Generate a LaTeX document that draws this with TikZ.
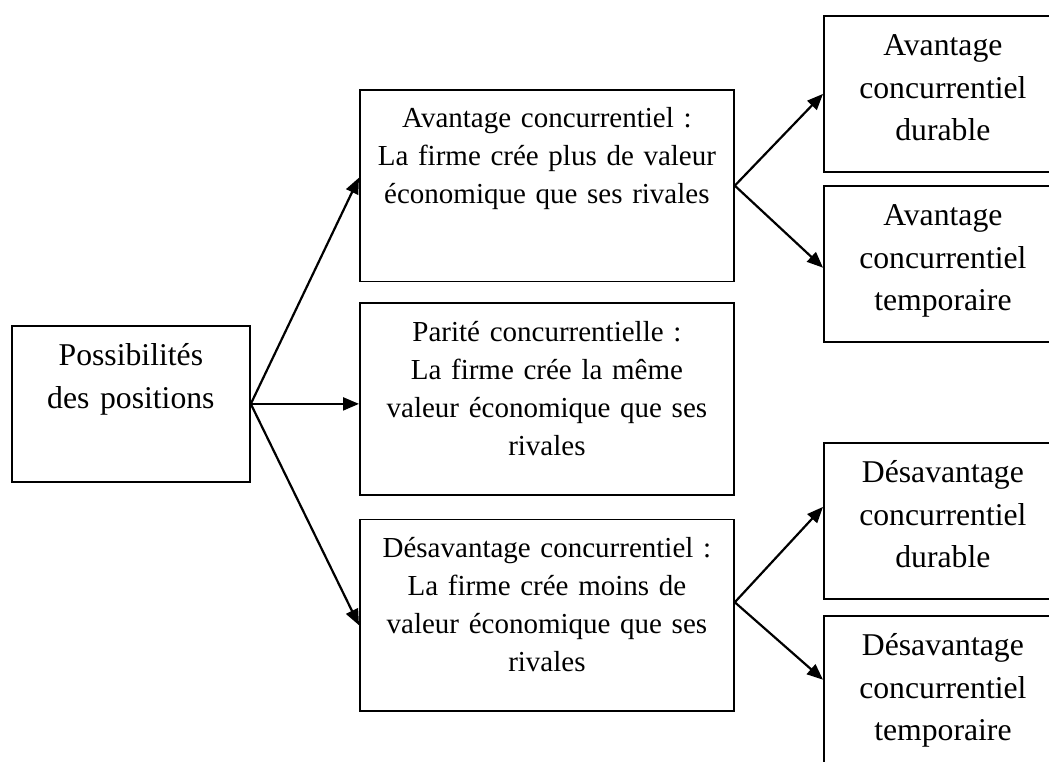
\documentclass[tikz,border=0pt]{standalone}
\usepackage{fontspec}
\setmainfont{Liberation Serif}
\usetikzlibrary{positioning,arrows.meta}

\begin{document}
\begin{tikzpicture}[x=1pt,y=-1pt,>={Triangle[length=16pt,width=13pt]},node distance=20pt]
  \tikzstyle{sidebox}=[draw,line width=1.8pt,inner sep=0pt,text width=238pt,
    align=center,text height=40pt,text depth=116pt,
    font=\fontsize{31.7}{42.5}\selectfont]
  \tikzstyle{midbox}=[draw,line width=1.8pt,inner sep=0pt,text width=374pt,
    align=center,text height=38pt,text depth=153.5pt,
    font=\fontsize{29}{38}\selectfont]
  \tikzstyle{link}=[->,line width=2.2pt]
  \useasboundingbox (0,0) rectangle (1049,762);
  \clip (0,0) rectangle (1049,762);
  \node[sidebox,anchor=north west] (pos) at (11,325) {Possibilités\\des positions};
  \node[midbox,anchor=north west] (avt) at (359,89)
    {Avantage concurrentiel :\\La firme crée plus de valeur\\économique que ses rivales};
  \node[midbox,below=of avt] (par)
    {Parité concurrentielle :\\La firme crée la même\\valeur économique que ses\\rivales};
  \node[midbox,below=23pt of par] (des)
    {Désavantage concurrentiel :\\La firme crée moins de\\valeur économique que ses\\rivales};
  \node[sidebox,anchor=north west] (avtdur) at (823,15) {Avantage\\concurrentiel\\durable};
  \node[sidebox,below=12pt of avtdur] (avttmp) {Avantage\\concurrentiel\\temporaire};
  \node[sidebox,anchor=north west] (desdur) at (823,442) {Désavantage\\concurrentiel\\durable};
  \node[sidebox,below=15pt of desdur] (destmp) {Désavantage\\concurrentiel\\temporaire};
  \draw[link] (pos.east) -- ([yshift=8pt]avt.west);
  \draw[link] (pos.east) -- (par.west |- pos.east);
  \draw[link] (pos.east) -- ([yshift=-10pt]des.west);
  \draw[link] (avt.east) -- (avtdur.west);
  \draw[link] (avt.east) -- ([yshift=-4pt]avttmp.west);
  \draw[link] ([yshift=13pt]des.east) -- ([yshift=14pt]desdur.west);
  \draw[link] ([yshift=13pt]des.east) -- ([yshift=14pt]destmp.west);
\end{tikzpicture}
\end{document}
